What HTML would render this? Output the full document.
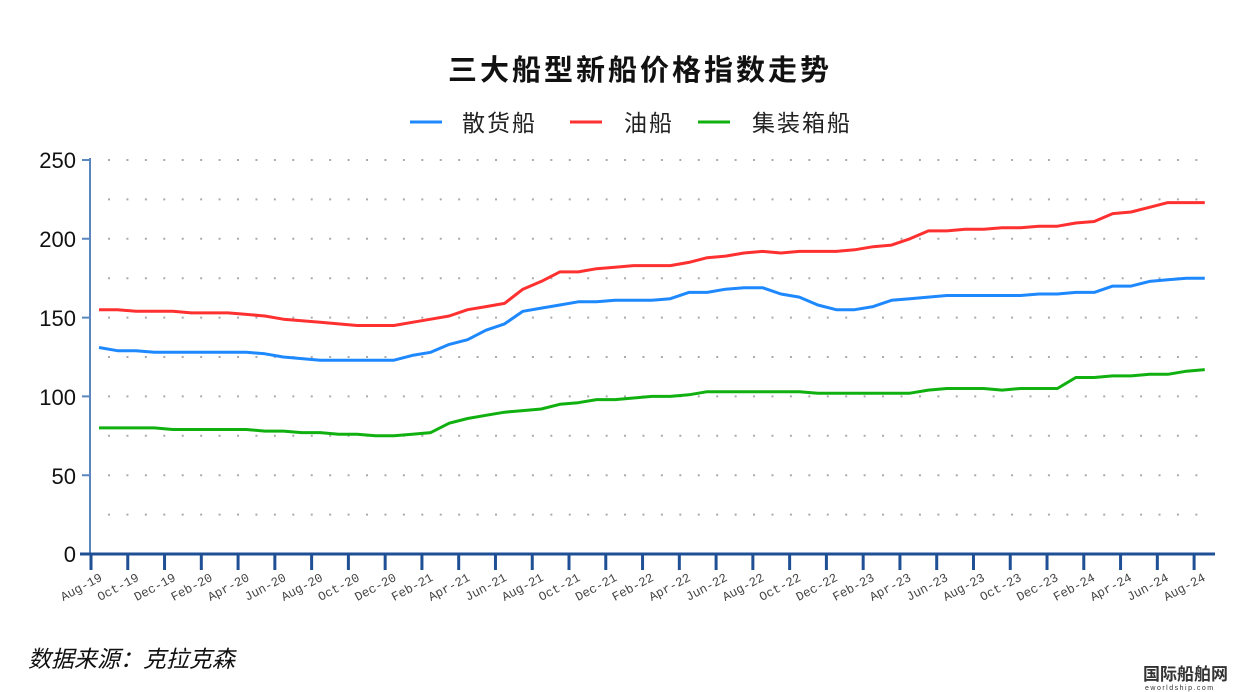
<!DOCTYPE html>
<html><head><meta charset="utf-8"><style>body{margin:0;background:#fff}svg{display:block}</style></head><body>
<svg width="1238" height="692" xmlns="http://www.w3.org/2000/svg" font-family="Liberation Sans, Noto Sans CJK SC, sans-serif">
<text x="640" y="80" text-anchor="middle" font-size="29" font-weight="bold" fill="#111" letter-spacing="3">三大船型新船价格指数走势</text>
<g font-size="23" fill="#222" letter-spacing="2">
<line x1="410" y1="122" x2="442" y2="122" stroke="#1e88ff" stroke-width="3"/><text x="462" y="131">散货船</text>
<line x1="570" y1="122" x2="602" y2="122" stroke="#ff3030" stroke-width="3"/><text x="624" y="131">油船</text>
<line x1="698" y1="122" x2="730" y2="122" stroke="#10b010" stroke-width="3"/><text x="752" y="131">集装箱船</text>
</g>
<g stroke="#aaa" stroke-width="2" stroke-dasharray="2 16.43" fill="none">
<path d="M108 514.6H1212M108 475.2H1212M108 435.8H1212M108 396.4H1212M108 357H1212M108 317.6H1212M108 278.2H1212M108 238.8H1212M108 199.4H1212M108 160H1212"/>
</g>
<line x1="90" y1="158" x2="90" y2="554" stroke="#5a86c0" stroke-width="2"/>
<g stroke="#5a86c0" stroke-width="2"><path d="M82 160H90M82 238.8H90M82 317.6H90M82 396.4H90M82 475.2H90"/></g>
<g font-size="22" fill="#111" text-anchor="end">
<text x="76" y="168">250</text><text x="76" y="247">200</text><text x="76" y="326">150</text><text x="76" y="405">100</text><text x="76" y="484">50</text><text x="76" y="562">0</text>
</g>
<line x1="80" y1="554" x2="1215" y2="554" stroke="#1f4f94" stroke-width="3"/>
<g id="ticks" stroke="#1f4f94" stroke-width="3"></g>
<g id="xl" font-size="12.5" fill="#444" font-family="Liberation Mono, monospace"></g>
<polyline id="r" fill="none" stroke="#ff3030" stroke-width="3" stroke-linejoin="round"/>
<polyline id="b" fill="none" stroke="#1e88ff" stroke-width="3" stroke-linejoin="round"/>
<polyline id="gr" fill="none" stroke="#10b010" stroke-width="3" stroke-linejoin="round"/>
<text x="28" y="667" font-size="23" font-style="italic" fill="#111">数据来源：克拉克森</text>
<text x="1143" y="680" font-size="17" font-weight="bold" fill="#333">国际船舶网</text>
<text x="1145" y="690" font-size="7" fill="#333" letter-spacing="1.5">eworldship.com</text>
<script>
var ns="http://www.w3.org/2000/svg";
var B=[131,129,129,128,128,128,128,128,128,127,125,124,123,123,123,123,123,126,128,133,136,142,146,154,156,158,160,160,161,161,161,162,166,166,168,169,169,165,163,158,155,155,157,161,162,163,164,164,164,164,164,165,165,166,166,170,170,173,174,175,175];
var R=[155,155,154,154,154,153,153,153,152,151,149,148,147,146,145,145,145,147,149,151,155,157,159,168,173,179,179,181,182,183,183,183,185,188,189,191,192,191,192,192,192,193,195,196,200,205,205,206,206,207,207,208,208,210,211,216,217,220,223,223,223];
var G=[80,80,80,80,79,79,79,79,79,78,78,77,77,76,76,75,75,76,77,83,86,88,90,91,92,95,96,98,98,99,100,100,101,103,103,103,103,103,103,102,102,102,102,102,102,104,105,105,105,104,105,105,105,112,112,113,113,114,114,116,117];
function pts(a){return a.map(function(v,i){return (99+18.43*i).toFixed(1)+","+(554-1.576*v).toFixed(1)}).join(" ")}
document.getElementById("r").setAttribute("points",pts(R));
document.getElementById("b").setAttribute("points",pts(B));
document.getElementById("gr").setAttribute("points",pts(G));
var M=["Jan","Feb","Mar","Apr","May","Jun","Jul","Aug","Sep","Oct","Nov","Dec"],t=document.getElementById("ticks"),xl=document.getElementById("xl");
for(var k=0;k<31;k++){var x=91+36.77*k;var l=document.createElementNS(ns,"line");l.setAttribute("x1",x);l.setAttribute("x2",x);l.setAttribute("y1",554);l.setAttribute("y2",570);t.appendChild(l);
var mi=7+2*k;var yr=19+Math.floor(mi/12);var s=document.createElementNS(ns,"text");s.textContent=M[mi%12]+"-"+yr;s.setAttribute("text-anchor","end");s.setAttribute("transform","translate("+(x+12)+",580) rotate(-28)");xl.appendChild(s);}
</script>
</svg>
</body></html>
